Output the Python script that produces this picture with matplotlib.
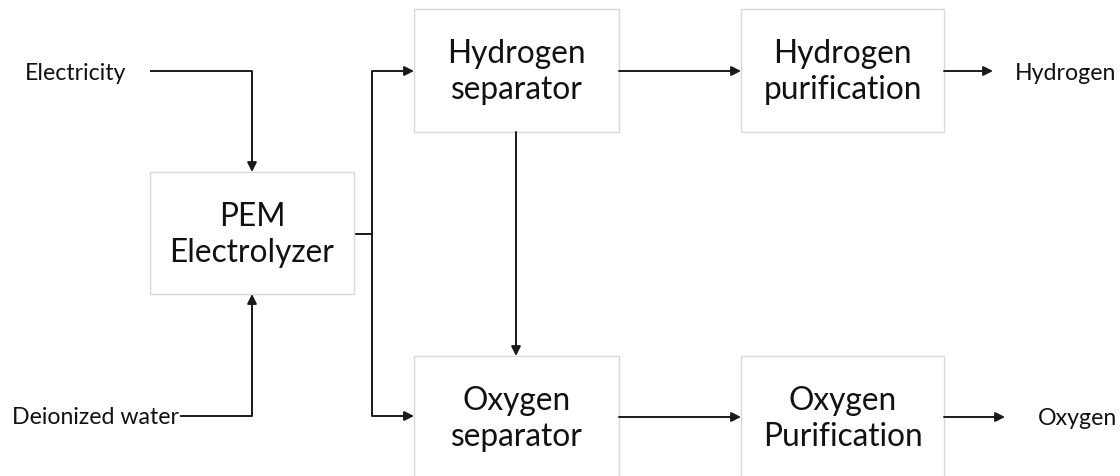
import matplotlib.pyplot as plt
from matplotlib.patches import Rectangle

# box labels
boxes = ["PEM\nElectrolyzer", "Hydrogen\nseparator", "Hydrogen\npurification",
         "Oxygen\nseparator", "Oxygen\nPurification"]
inputs = ["Electricity", "Deionized water"]
outputs = ["Hydrogen", "Oxygen"]

plt.rcParams['font.family'] = ['Lato', 'DejaVu Sans']

fig = plt.figure(figsize=(11.2, 4.77), dpi=100)
ax = fig.add_axes([0, 0, 1, 1])
ax.set_xlim(0, 1120)
ax.set_ylim(477, 0)
ax.axis('off')

# box geometry (x, y top-left, w, h)
geo = [(150, 173, 204, 122), (414, 10, 205, 123), (741, 10, 203, 123),
       (414, 357, 205, 123), (741, 357, 203, 123)]
for lab, (x, y, w, h) in zip(boxes, geo):
    ax.add_patch(Rectangle((x, y), w, h, facecolor='white', edgecolor='#d9d9d9', lw=1.0, zorder=2))
    ax.text(x + w / 2, y + 62, lab, ha='center', va='center', fontsize=22.8,
            linespacing=1.28, color='#111111', zorder=3)

lc = '#1a1a1a'
lw = 1.4
fs = 16.7


def line(xs, ys):
    ax.plot(xs, ys, color=lc, lw=lw, solid_capstyle='butt', zorder=1)


def arrow(x0, y0, x1, y1):
    ax.annotate('', xy=(x1, y1), xytext=(x0, y0),
                arrowprops=dict(arrowstyle='-|>', color=lc, lw=lw,
                                mutation_scale=14, shrinkA=0, shrinkB=0),
                zorder=4)


# inputs
ax.text(25, 73, inputs[0], ha='left', va='center', fontsize=fs, color='#111111')
line([150, 252], [72, 72])
arrow(252, 72, 252, 173)
ax.text(12, 418, inputs[1], ha='left', va='center', fontsize=fs, color='#111111')
line([180, 252], [417, 417])
arrow(252, 417, 252, 295)

# electrolyzer output split
line([354, 372], [235, 235])
line([372, 372], [72, 417])
arrow(372, 72, 414, 72)
arrow(372, 417, 414, 417)

# separators
arrow(516, 133, 516, 357)
arrow(619, 72, 741, 72)
arrow(619, 418, 741, 418)

# outputs
arrow(944, 72, 993, 72)
ax.text(1015, 73, outputs[0], ha='left', va='center', fontsize=fs, color='#111111')
arrow(944, 418, 1005, 418)
ax.text(1038, 419, outputs[1], ha='left', va='center', fontsize=fs, color='#111111')

fig.savefig('out.png', dpi=100)
